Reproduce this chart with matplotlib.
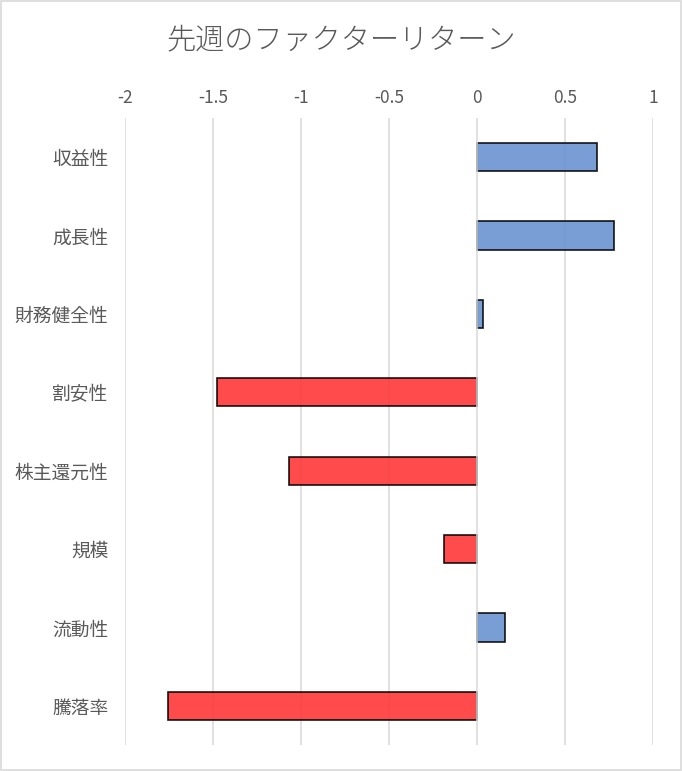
import numpy as np
import matplotlib.pyplot as plt
from matplotlib.patches import Rectangle

plt.rcParams['font.family'] = ['Noto Sans CJK JP', 'DejaVu Sans']

# データ
factors = ['収益性', '成長性', '財務健全性', '割安性', '株主還元性', '規模', '流動性', '騰落率']
returns = [0.68, 0.78, 0.035, -1.475, -1.07, -0.19, 0.16, -1.755]
ticks = [-2, -1.5, -1, -0.5, 0, 0.5, 1]
tick_labels = ['-2', '-1.5', '-1', '-0.5', '0', '0.5', '1']

pos_color = '#6B93D1'
neg_color = '#FF3737'
text_color = '#595959'

fig = plt.figure(figsize=(6.82, 7.71), dpi=100)
ax = fig.add_axes([0.1833, 0.0337, 0.7742, 0.8132])

y = np.arange(len(factors))
colors = [pos_color if v >= 0 else neg_color for v in returns]
ax.barh(y, returns, height=0.36, color=colors, alpha=0.9,
        edgecolor='black', linewidth=1.2, zorder=2)

# 縦グリッド
for t in ticks:
    ax.axvline(t, color='#D9D9D9', linewidth=1.1, zorder=3 if t == 0 else 1)

ax.set_xlim(-2, 1)
ax.set_ylim(len(factors) - 0.5, -0.5)
ax.set_yticks(y)
ax.set_yticklabels(factors, fontsize=13.5)
ax.set_xticks(ticks)
ax.set_xticklabels(tick_labels, fontsize=12.5)
ax.xaxis.tick_top()
ax.tick_params(axis='both', length=0, colors=text_color)
ax.tick_params(axis='x', pad=8)
ax.tick_params(axis='y', pad=12)
for s in ax.spines.values():
    s.set_visible(False)

fig.text(0.5, 0.948, '先週のファクターリターン', ha='center', va='center',
         fontsize=21, color=text_color, fontweight='light')

# 外枠
fig.patches.append(Rectangle((0.001, 0.001), 0.998, 0.998, transform=fig.transFigure,
                             fill=False, edgecolor='#D9D9D9', linewidth=1.2))

plt.savefig('out.png', dpi=100)
